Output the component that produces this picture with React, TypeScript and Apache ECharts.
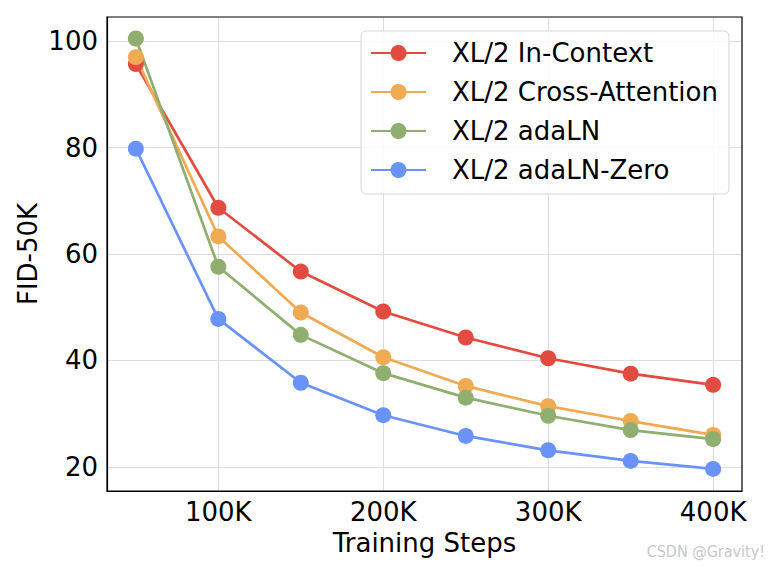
import React, { useEffect, useRef } from "react";
import * as echarts from "echarts";

const steps = [50, 100, 150, 200, 250, 300, 350, 400];
const inContext = [95.7, 68.7, 56.7, 49.2, 44.3, 40.4, 37.5, 35.4];
const crossAttention = [97.0, 63.3, 49.0, 40.6, 35.2, 31.4, 28.6, 26.0];
const adaLN = [100.5, 57.6, 44.8, 37.6, 33.0, 29.6, 26.9, 25.2];
const adaLNZero = [79.8, 47.8, 35.8, 29.7, 25.8, 23.1, 21.1, 19.6];
const xTicks = [100, 200, 300, 400];
const yTicks = [20, 40, 60, 80, 100];

const seriesDefs = [
  { name: "XL/2 In-Context", data: inContext, color: "#E24B40" },
  { name: "XL/2 Cross-Attention", data: crossAttention, color: "#EFAA52" },
  { name: "XL/2 adaLN", data: adaLN, color: "#8FAE6F" },
  { name: "XL/2 adaLN-Zero", data: adaLNZero, color: "#6A93F7" },
];

const FONT = "DejaVu Sans";

export default function App() {
  const ref = useRef<HTMLDivElement>(null);
  useEffect(() => {
    document.body.style.margin = "0";
    const chart = echarts.init(ref.current!, null, { renderer: "svg" });
    chart.setOption({
      animation: false,
      backgroundColor: "#ffffff",
      grid: { left: 107, right: 28, top: 17, bottom: 75, containLabel: false },
      xAxis: {
        type: "value",
        min: 32.5,
        max: 417.5,
        name: "Training Steps",
        nameLocation: "middle",
        nameGap: 37,
        nameTextStyle: { fontFamily: FONT, fontSize: 26, color: "#000" },
        axisLine: { show: true, lineStyle: { color: "#000", width: 1.2 } },
        axisTick: { show: false, customValues: xTicks },
        axisLabel: {
          customValues: xTicks,
          formatter: (v: number) => `${v}K`,
          fontFamily: FONT,
          fontSize: 26,
          color: "#000",
          margin: 8,
        },
        splitLine: { show: true, lineStyle: { color: "#dddddd", width: 1 } },
      },
      yAxis: {
        type: "value",
        min: 15.45,
        max: 104.55,
        name: "FID-50K",
        nameLocation: "middle",
        nameGap: 66,
        nameMoveOverlap: false,
        nameTextStyle: { fontFamily: FONT, fontSize: 26, color: "#000" },
        axisLine: { show: true, lineStyle: { color: "#000", width: 1.2 } },
        axisTick: { show: false, customValues: yTicks },
        axisLabel: {
          customValues: yTicks,
          fontFamily: FONT,
          fontSize: 26,
          color: "#000",
          margin: 9,
        },
        splitLine: { show: true, lineStyle: { color: "#dddddd", width: 1 } },
      },
      legend: {
        left: 361,
        top: 31,
        orient: "vertical",
        padding: [9, 11, 11, 9],
        itemWidth: 55,
        itemHeight: 20,
        itemGap: 13,
        backgroundColor: "rgba(255,255,255,0.85)",
        borderColor: "#d6d6d6",
        borderWidth: 1,
        borderRadius: 5,
        textStyle: {
          fontFamily: FONT,
          fontSize: 26,
          color: "#000",
          padding: [0, 0, 0, 21],
        },
        data: seriesDefs.map((s) => s.name),
      },
      graphic: [
        {
          type: "rect",
          shape: { x: 107, y: 17, width: 635, height: 474 },
          style: { fill: "none", stroke: "#000", lineWidth: 1.2 },
          z: 10,
          silent: true,
        },
        {
          type: "text",
          right: 5,
          top: 543,
          style: { text: "CSDN @Gravity!", fontFamily: "Liberation Sans Narrow, DejaVu Sans Condensed, DejaVu Sans", fontSize: 16, fill: "#c8c8c8" },
        },
      ],
      series: seriesDefs.map((s) => ({
        name: s.name,
        type: "line",
        data: steps.map((x, i) => [x, s.data[i]]),
        symbol: "circle",
        symbolSize: 16,
        color: s.color,
        lineStyle: { width: 2.7, color: s.color },
        itemStyle: { color: s.color },
      })),
    });
    return () => chart.dispose();
  }, []);
  return <div ref={ref} style={{ position: "absolute", left: 0, top: 0, width: 770, height: 566 }} />;
}
